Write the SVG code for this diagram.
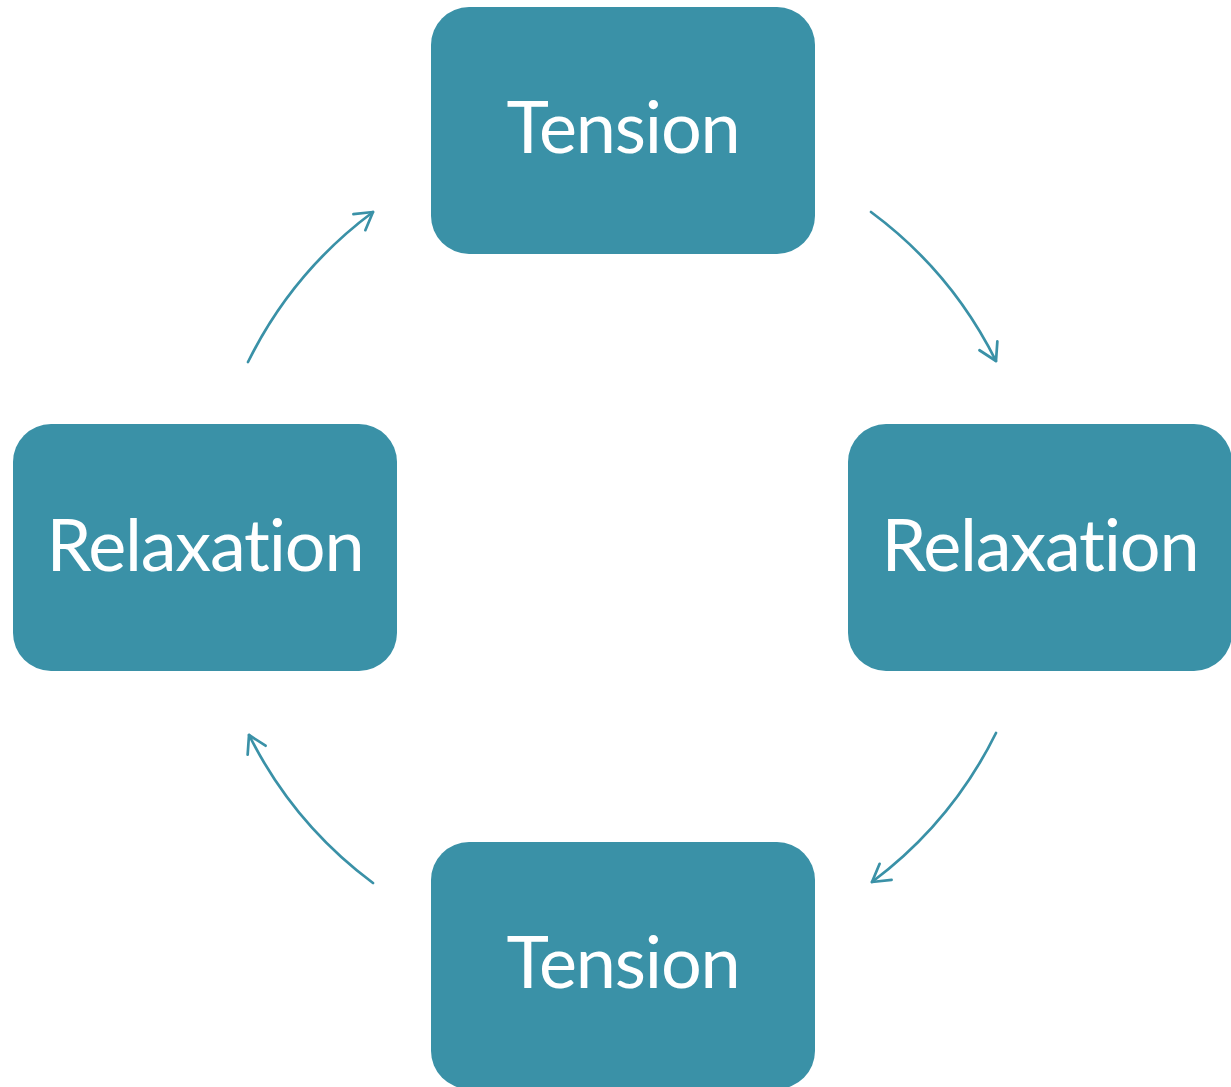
<svg xmlns="http://www.w3.org/2000/svg" width="1231" height="1087" viewBox="0 0 1231 1087">
<defs>
<style>
.box{fill:#3A91A7;}
.lbl{fill:#FFFFFF;font-family:Lato,"Open Sans","Liberation Sans",sans-serif;font-size:72px;text-anchor:middle;letter-spacing:-1.2px;font-variant-ligatures:none;font-feature-settings:"liga" 0;}
.conn{fill:none;stroke:#3A91A7;stroke-width:2.7;stroke-linecap:round;}
</style>
<marker id="ah" markerWidth="24" markerHeight="24" refX="0" refY="0" viewBox="-20 -12 24 24" orient="auto" markerUnits="userSpaceOnUse">
<path d="M-17,-10 L0,0 L-17,10" fill="none" stroke="#3A91A7" stroke-width="2.7" stroke-linecap="round" stroke-linejoin="round"/>
</marker>
</defs>
<rect width="1231" height="1087" fill="#FFFFFF"/>
<g id="connectors">
<path class="conn" d="M871,212 A417,417 0 0 1 996,361" marker-end="url(#ah)"/>
<path class="conn" d="M996,733 A417,417 0 0 1 872,882" marker-end="url(#ah)"/>
<path class="conn" d="M373,883 A417,417 0 0 1 249,735" marker-end="url(#ah)"/>
<path class="conn" d="M248,362 A417,417 0 0 1 373,212" marker-end="url(#ah)"/>
</g>
<g id="node-tension-top">
<rect class="box" x="431" y="7" width="384" height="247" rx="38"/>
<text class="lbl" x="623" y="153">Tension</text>
</g>
<g id="node-relaxation-right">
<rect class="box" x="848" y="424" width="384" height="247" rx="38"/>
<text class="lbl" x="1040" y="571">Relaxation</text>
</g>
<g id="node-tension-bottom">
<rect class="box" x="431" y="842" width="384" height="247" rx="38"/>
<text class="lbl" x="623" y="988">Tension</text>
</g>
<g id="node-relaxation-left">
<rect class="box" x="13" y="424" width="384" height="247" rx="38"/>
<text class="lbl" x="205" y="571">Relaxation</text>
</g>
</svg>
